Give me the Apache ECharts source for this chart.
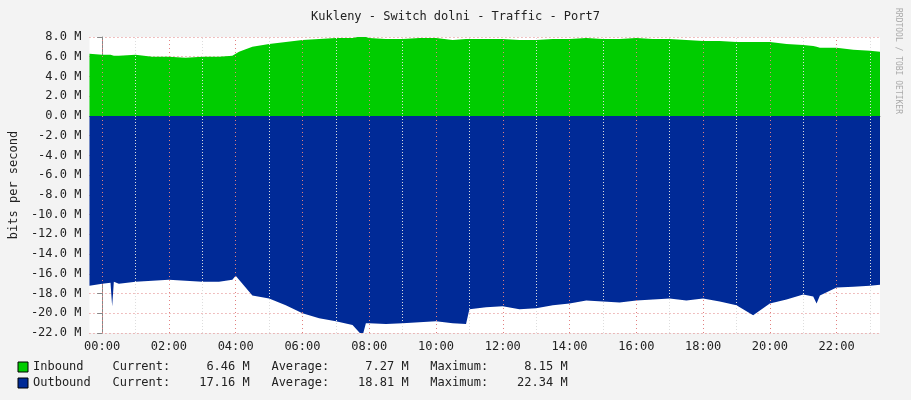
<!DOCTYPE html>
<html><head><meta charset="utf-8">
<script src="https://cdn.jsdelivr.net/npm/echarts@6/dist/echarts.min.js"></script>
<style>html,body{margin:0;padding:0;background:#f3f3f3}#c{width:911px;height:400px}</style>
</head><body><div id="c"></div>
<script>
const hours = [-0.38,0,0.25,0.3,0.35,0.5,1,1.5,2,2.5,3,3.5,3.9,4.0,4.1,4.5,5,5.5,6,6.5,7,7.5,7.8,7.9,8,8.5,9,9.5,10,10.5,10.9,11,11.5,12,12.5,13,13.5,14,14.5,15,15.5,16,16.5,17,17.5,18,18.5,19,19.3,19.5,20,20.5,21,21.3,21.4,21.5,22,22.5,23,23.3];
const inbound = [6.3,6.2,6.2,6.2,6.1,6.1,6.2,6.0,6.0,5.9,6.0,6.0,6.1,6.3,6.5,7.0,7.3,7.5,7.7,7.8,7.9,7.9,8.1,8.0,7.9,7.8,7.8,7.9,7.9,7.7,7.8,7.8,7.8,7.8,7.7,7.7,7.8,7.8,7.9,7.8,7.8,7.9,7.8,7.8,7.7,7.6,7.6,7.5,7.5,7.5,7.5,7.3,7.2,7.1,7.0,6.9,6.9,6.7,6.6,6.5];
const outbound = [-17.2,-17.0,-16.9,-19.3,-16.8,-17.0,-16.8,-16.7,-16.6,-16.7,-16.8,-16.8,-16.6,-16.2,-16.6,-18.2,-18.5,-19.2,-20.0,-20.5,-20.8,-21.2,-22.3,-21.0,-21.0,-21.1,-21.0,-20.9,-20.8,-21.0,-21.1,-19.6,-19.4,-19.3,-19.6,-19.5,-19.2,-19.0,-18.7,-18.8,-18.9,-18.7,-18.6,-18.5,-18.7,-18.5,-18.8,-19.2,-19.8,-20.2,-19.0,-18.6,-18.1,-18.3,-19.0,-18.2,-17.4,-17.3,-17.2,-17.1];
const xTicks = [0,2,4,6,8,10,12,14,16,18,20,22];
const minorTicks = [1,3,5,7,9,11,13,15,17,19,21,23];
const legendRows = [
  ['Inbound ', '6.46', '7.27', '8.15'],
  ['Outbound', '17.16', '18.81', '22.34']
];
const fmtH = v => String(v).padStart(2,'0') + ':00';
const mono = 'DejaVu Sans Mono';
const chart = echarts.init(document.getElementById('c'));
const pad = (s,n)=>s.padStart(n,' ');
chart.setOption({
  animation:false,
  backgroundColor:'#f3f3f3',
  textStyle:{fontFamily:mono},
  title:{text:'Kukleny - Switch dolni - Traffic - Port7',left:'center',top:6,textStyle:{fontFamily:mono,fontSize:12,fontWeight:'normal',color:'#222'}},
  grid:{left:80,right:31,top:37,bottom:67,backgroundColor:'#fff',show:true,borderWidth:0},
  xAxis:{type:'value',min:-0.38,max:23.3,
    axisLine:{lineStyle:{color:'#888'}},
    axisTick:{customValues:xTicks,lineStyle:{color:'#888'}},
    axisLabel:{customValues:xTicks,formatter:fmtH,fontFamily:mono,fontSize:12,color:'#222'},
    splitLine:{show:false}},
  yAxis:{type:'value',min:-22,max:8,interval:2,name:'bits per second',nameLocation:'middle',nameGap:64,
    nameTextStyle:{fontFamily:mono,fontSize:12,color:'#222'},
    axisLine:{show:true,lineStyle:{color:'#888'}},axisTick:{show:true,lineStyle:{color:'#888'}},
    axisLabel:{formatter:v=>v.toFixed(1)+' M',fontFamily:mono,fontSize:12,color:'#222'},
    splitLine:{lineStyle:{color:'#e08080',type:[1,3],width:1}}},
  series:[
    {type:'line',data:hours.map((h,i)=>[h,inbound[i]]),symbol:'none',lineStyle:{width:0},areaStyle:{color:'#00cc00',opacity:1},z:2,
     markLine:{silent:true,symbol:'none',label:{show:false},
       data:[...minorTicks.map(v=>({xAxis:v,lineStyle:{color:'#ddd',type:[1,2],width:1}})),
             ...xTicks.map(v=>({xAxis:v,lineStyle:{color:'#e08080',type:[1,3],width:1}}))]}},
    {type:'line',data:hours.map((h,i)=>[h,outbound[i]]),symbol:'none',lineStyle:{width:0},areaStyle:{color:'#002a97',opacity:1},z:2}
  ],
  graphic:[
    {type:'rect',shape:{x:18,y:362,width:10,height:10},style:{fill:'#00cc00',stroke:'#000'}},
    {type:'rect',shape:{x:18,y:378,width:10,height:10},style:{fill:'#002a97',stroke:'#000'}},
    ...legendRows.map((r,i)=>({type:'text',left:33,top:361+i*16,style:{
      text:`${r[0]}   Current:   ${pad(r[1],6)} M   Average:   ${pad(r[2],6)} M   Maximum:   ${pad(r[3],6)} M`,
      font:'12px "DejaVu Sans Mono"',fill:'#222'}})),
    {type:'text',left:894,top:8,rotation:-Math.PI/2,style:{text:'RRDTOOL / TOBI OETIKER',font:'8px "DejaVu Sans Mono"',fill:'#aaa'}}
  ]
});
</script></body></html>
